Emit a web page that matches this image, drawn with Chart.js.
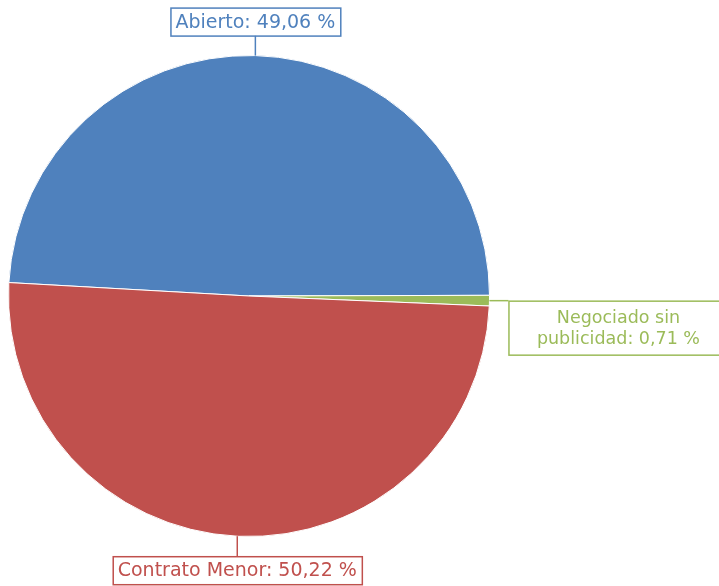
<!DOCTYPE html>
<html>
<head>
<meta charset="utf-8">
<script src="https://cdn.jsdelivr.net/npm/chart.js@4"></script>
<style>
  html,body{margin:0;padding:0;background:#fff;}
  #wrap{width:719px;height:586px;position:relative;}
</style>
</head>
<body>
<div id="wrap"><canvas id="pie"></canvas></div>
<script>
// data
const labels = ['Abierto', 'Negociado sin publicidad', 'Contrato Menor'];
const values = [49.06, 0.71, 50.22];
const colors = ['#4F81BD', '#9BBB59', '#C0504D'];
const labelLines = [['Abierto: 49,06 %'], ['Negociado sin', 'publicidad: 0,71 %'], ['Contrato Menor: 50,22 %']];

const FONT1 = '19px Tahoma, "DejaVu Sans", sans-serif';
const FONT2 = '17.5px Tahoma, "DejaVu Sans", sans-serif';

// outside labels with leader lines
const calloutPlugin = {
  id: 'callouts',
  afterDraw(chart) {
    const ctx = chart.ctx;
    const meta = chart.getDatasetMeta(0);
    ctx.save();
    ctx.textBaseline = 'middle';
    ctx.textAlign = 'center';
    meta.data.forEach((arc, i) => {
      const p = arc.getProps(['x','y','startAngle','endAngle','outerRadius'], true);
      const mid = (p.startAngle + p.endAngle) / 2;
      const ex = p.x + Math.cos(mid) * p.outerRadius;
      const ey = p.y + Math.sin(mid) * p.outerRadius;
      const c = Math.cos(mid), s = Math.sin(mid);
      const lines = labelLines[i];
      ctx.font = lines.length > 1 ? FONT2 : FONT1;
      const lh = 21;
      const w = i === 1 ? 220 : Math.max(...lines.map(t => ctx.measureText(t).width)) + 10;
      const h = lines.length > 1 ? 54 : 28;
      let lx, ly, bx, by;
      if (Math.abs(c) > Math.abs(s)) {
        lx = ex + Math.sign(c) * 19; ly = ey;
        bx = c > 0 ? lx : lx - w; by = ey;
      } else {
        lx = ex; ly = ey + Math.sign(s) * 20;
        bx = ex - w / 2; by = s > 0 ? ly : ly - h;
      }
      ctx.strokeStyle = colors[i];
      ctx.lineWidth = 1.5;
      ctx.beginPath();
      ctx.moveTo(ex, ey);
      ctx.lineTo(lx, ly);
      ctx.stroke();
      ctx.fillStyle = '#fff';
      ctx.fillRect(bx, by, w, h);
      ctx.strokeRect(bx + 0.5, by + 0.5, w, h);
      ctx.fillStyle = colors[i];
      const ty0 = by + h / 2 - (lines.length - 1) * lh / 2 + 1;
      lines.forEach((t, k) => ctx.fillText(t, bx + w / 2, ty0 + k * lh));
    });
    ctx.restore();
  }
};

new Chart(document.getElementById('pie'), {
  type: 'pie',
  data: {
    labels: labels,
    datasets: [{
      data: values,
      backgroundColor: colors,
      borderColor: '#ffffff',
      borderWidth: 1
    }]
  },
  options: {
    responsive: true,
    maintainAspectRatio: false,
    animation: false,
    rotation: -86.8,
    layout: { padding: { left: 8, right: 229, top: 54, bottom: 48 } },
    plugins: { legend: { display: false }, tooltip: { enabled: false } }
  },
  plugins: [calloutPlugin]
});
</script>
</body>
</html>
